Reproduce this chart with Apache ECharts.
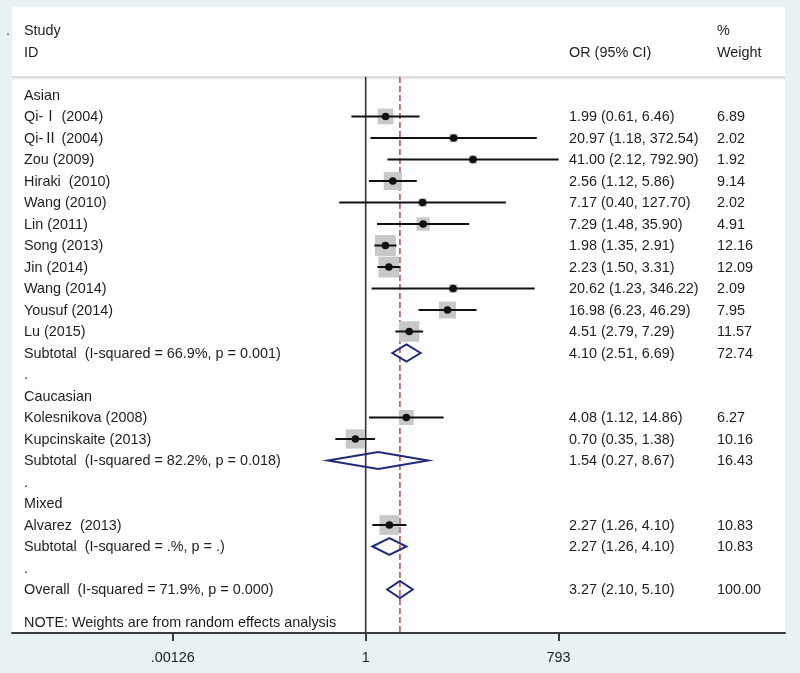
<!DOCTYPE html>
<html><head><meta charset="utf-8">
<script src="https://cdn.jsdelivr.net/npm/echarts@6/dist/echarts.min.js"></script>
<style>html,body{margin:0;padding:0;background:#e8f1f4;} #chart{width:800px;height:673px;}</style>
</head><body><div id="chart"></div>
<script>
// ---- data ----
const headerLeft = ["Study", "ID"];
const headerOR = ["", "OR (95% CI)"];
const headerWeight = ["%", "Weight"];
const headerRows = [-3, -2];
const rowLabels = [
  "Asian", "Qi-Ⅰ (2004)", "Qi-Ⅱ (2004)", "Zou (2009)", "Hiraki  (2010)", "Wang (2010)",
  "Lin (2011)", "Song (2013)", "Jin (2014)", "Wang (2014)", "Yousuf (2014)", "Lu (2015)",
  "Subtotal  (I-squared = 66.9%, p = 0.001)", ".",
  "Caucasian", "Kolesnikova (2008)", "Kupcinskaite (2013)",
  "Subtotal  (I-squared = 82.2%, p = 0.018)", ".",
  "Mixed", "Alvarez  (2013)", "Subtotal  (I-squared = .%, p = .)", ".",
  "Overall  (I-squared = 71.9%, p = 0.000)"
];
const rowKind = [
  "group", "study", "study", "study", "study", "study", "study", "study", "study", "study", "study", "study",
  "pooled", "blank", "group", "study", "study", "pooled", "blank", "group", "study", "pooled", "blank", "pooled"
];
const orVals = [null, 1.99, 20.97, 41.00, 2.56, 7.17, 7.29, 1.98, 2.23, 20.62, 16.98, 4.51, 4.10, null,
  null, 4.08, 0.70, 1.54, null, null, 2.27, 2.27, null, 3.27];
const loVals = [null, 0.61, 1.18, 2.12, 1.12, 0.40, 1.48, 1.35, 1.50, 1.23, 6.23, 2.79, 2.51, null,
  null, 1.12, 0.35, 0.27, null, null, 1.26, 1.26, null, 2.10];
const hiVals = [null, 6.46, 372.54, 792.90, 5.86, 127.70, 35.90, 2.91, 3.31, 346.22, 46.29, 7.29, 6.69, null,
  null, 14.86, 1.38, 8.67, null, null, 4.10, 4.10, null, 5.10];
const weights = [null, 6.89, 2.02, 1.92, 9.14, 2.02, 4.91, 12.16, 12.09, 2.09, 7.95, 11.57, 72.74, null,
  null, 6.27, 10.16, 16.43, null, null, 10.83, 10.83, null, 100.00];
const noteText = "NOTE: Weights are from random effects analysis";
const noteRow = 24.5;
const separatorRow = -0.84;
const tickValues = [0.00126, 1, 793];
const tickLabels = [".00126", "1", "793"];
const nullValue = 1;
const overallOR = orVals[orVals.length - 1];

// ---- style ----
const FONT_FAMILY = '"Liberation Sans", Arial, "Noto Sans CJK SC", sans-serif';
const FONT = '14.4px ' + FONT_FAMILY;
const TXT = '#1e1e1e';
const COL_LABEL = 12, COL_OR = 557, COL_W = 705;

function txt(text, x, y) {
  return { type: 'text', style: { text: text, x: x, y: y + 0.8, font: FONT, fill: TXT, align: 'left', verticalAlign: 'middle' } };
}

function renderRow(params, api) {
  const i = api.value(1);
  const cs = params.coordSys;
  const y = api.coord([nullValue, i])[1];
  const kids = [];
  const kind = rowKind[i];
  if (kind === 'study') {
    const c = api.coord([orVals[i], i]);
    const l = api.coord([loVals[i], i]);
    const h = api.coord([hiVals[i], i]);
    const side = 6 * Math.sqrt(weights[i]);
    kids.push({ type: 'rect', shape: { x: c[0] - side / 2, y: c[1] - side / 2, width: side, height: side }, style: { fill: '#c8c8c8' } });
    kids.push({ type: 'line', shape: { x1: l[0], y1: y, x2: h[0], y2: y }, style: { stroke: '#111', lineWidth: 2 } });
    kids.push({ type: 'circle', shape: { cx: c[0], cy: c[1], r: 3.8 }, style: { fill: '#111' } });
  } else if (kind === 'pooled') {
    const c = api.coord([orVals[i], i]);
    const l = api.coord([loVals[i], i]);
    const h = api.coord([hiVals[i], i]);
    const hh = 8.5;
    kids.push({ type: 'polygon', shape: { points: [[l[0], y], [c[0], y - hh], [h[0], y], [c[0], y + hh]] },
      style: { fill: 'none', stroke: '#1f2a7c', lineWidth: 2 } });
  }
  kids.push(txt(rowLabels[i], cs.x + COL_LABEL, y));
  if (orVals[i] != null) {
    kids.push(txt(orVals[i].toFixed(2) + ' (' + loVals[i].toFixed(2) + ', ' + hiVals[i].toFixed(2) + ')', cs.x + COL_OR, y));
    kids.push(txt(weights[i].toFixed(2), cs.x + COL_W, y));
  }
  return { type: 'group', children: kids };
}

function renderHeader(params, api) {
  const k = params.dataIndex;
  const cs = params.coordSys;
  const y = api.coord([nullValue, api.value(1)])[1];
  return { type: 'group', children: [
    txt(headerLeft[k], cs.x + COL_LABEL, y),
    txt(headerOR[k], cs.x + COL_OR, y),
    txt(headerWeight[k], cs.x + COL_W, y)
  ] };
}

function renderNote(params, api) {
  const cs = params.coordSys;
  const y = api.coord([nullValue, api.value(1)])[1];
  return txt(noteText, cs.x + COL_LABEL, y);
}

function renderRefLines(params, api) {
  const cs = params.coordSys;
  const top = api.coord([nullValue, separatorRow])[1];
  const bottom = cs.y + cs.height;
  const nx = api.coord([nullValue, 0])[0];
  const dx = api.coord([overallOR, 0])[0];
  return { type: 'group', children: [
    { type: 'line', shape: { x1: cs.x, y1: top + 1.5, x2: cs.x + cs.width, y2: top + 1.5 }, style: { stroke: '#ececec', lineWidth: 2 } },
    { type: 'line', shape: { x1: cs.x, y1: top, x2: cs.x + cs.width, y2: top }, style: { stroke: '#d2d2d2', lineWidth: 1.5 } },
    { type: 'line', shape: { x1: nx, y1: top, x2: nx, y2: bottom }, style: { stroke: '#3a2e2e', lineWidth: 1.6 } },
    { type: 'line', shape: { x1: dx, y1: top, x2: dx, y2: bottom }, style: { stroke: '#c0473f', lineWidth: 1.5, lineDash: [6, 3] } }
  ] };
}

function nearestLabel(v) {
  let best = 0, bd = Infinity;
  tickValues.forEach((t, j) => { const d = Math.abs(Math.log10(v) - Math.log10(t)); if (d < bd) { bd = d; best = j; } });
  return tickLabels[best];
}

const chart = echarts.init(document.getElementById('chart'), null, { renderer: 'canvas' });
chart.setOption({
  backgroundColor: '#e8f1f4',
  animation: false,
  grid: { left: 12, right: 15, top: 7, bottom: 40, show: true, backgroundColor: '#ffffff', borderWidth: 0 },
  xAxis: {
    type: 'log', logBase: 10, min: 4.83e-6, max: 2.006e6,
    axisLine: { show: true, onZero: false, lineStyle: { color: '#3a3a3a', width: 2 } },
    axisTick: { show: true, length: 8, customValues: tickValues, lineStyle: { color: '#3a3a3a', width: 2 } },
    axisLabel: { show: true, customValues: tickValues, formatter: nearestLabel, margin: 18, color: TXT, fontSize: 14.4, fontFamily: FONT_FAMILY },
    splitLine: { show: false }, minorTick: { show: false }, minorSplitLine: { show: false }
  },
  yAxis: { type: 'value', inverse: true, min: -4.093, max: 25.023, show: false, splitLine: { show: false } },
  graphic: [{ type: 'text', left: 6, top: 24, style: { text: '.', font: FONT, fill: '#333' } }],
  series: [
    { type: 'custom', name: 'ref', z: 1, renderItem: renderRefLines, data: [[nullValue, 0]], silent: true },
    { type: 'custom', name: 'rows', z: 2, renderItem: renderRow, data: rowLabels.map((_, i) => [nullValue, i]), silent: true },
    { type: 'custom', name: 'header', z: 2, renderItem: renderHeader, data: headerRows.map(r => [nullValue, r]), silent: true },
    { type: 'custom', name: 'note', z: 2, renderItem: renderNote, data: [[nullValue, noteRow]], silent: true }
  ]
});
</script></body></html>
